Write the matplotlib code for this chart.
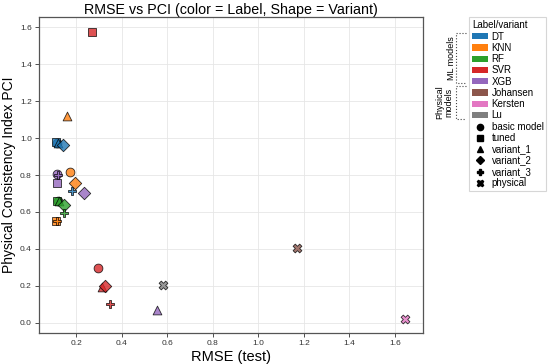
import numpy as np
import matplotlib
matplotlib.use("Agg")
import matplotlib.pyplot as plt
from matplotlib.patches import Patch
from matplotlib.lines import Line2D

plt.rcParams['font.family'] = ['Liberation Sans', 'DejaVu Sans']

# label / variant definitions
labels = ['DT', 'KNN', 'RF', 'SVR', 'XGB', 'Johansen', 'Kersten', 'Lu']
variants = ['basic model', 'tuned', 'variant_1', 'variant_2', 'variant_3', 'physical']

# one entry per point
point_label = ['DT'] * 5 + ['KNN'] * 5 + ['RF'] * 5 + ['SVR'] * 5 + ['XGB'] * 5 + ['Johansen', 'Kersten', 'Lu']
point_variant = variants[:5] * 5 + ['physical'] * 3
rmse = [0.115, 0.112, 0.118, 0.143, 0.180,
        0.171, 0.113, 0.161, 0.194, 0.115,
        0.118, 0.117, 0.125, 0.146, 0.146,
        0.295, 0.270, 0.314, 0.328, 0.347,
        0.114, 0.114, 0.555, 0.235, 0.118,
        1.171, 1.645, 0.581]
pci = [0.975, 0.978, 0.975, 0.961, 0.713,
       0.818, 0.551, 1.120, 0.759, 0.553,
       0.660, 0.659, 0.660, 0.637, 0.592,
       0.298, 1.577, 0.193, 0.200, 0.099,
       0.804, 0.759, 0.067, 0.705, 0.800,
       0.404, 0.022, 0.204]

colors = dict(zip(labels, plt.cm.tab10.colors[:8]))
markers = dict(zip(variants, ['o', 's', '^', 'D', 'P', 'X']))

fig = plt.figure(figsize=(5.5, 3.64), dpi=100)
ax = fig.add_axes([0.0704, 0.0852, 0.698, 0.8673])

for lab, var, x, y in zip(point_label, point_variant, rmse, pci):
    ax.scatter(x, y, color=colors[lab], marker=markers[var], s=40,
               edgecolors='black', linewidths=0.6, alpha=0.8, zorder=3)

ax.set_title('RMSE vs PCI (color = Label, Shape = Variant)', fontsize=10.3, pad=2)
ax.set_xlabel('RMSE (test)', fontsize=10.5, labelpad=2)
ax.set_ylabel('Physical Consistency Index PCI', fontsize=10, labelpad=3)
ax.tick_params(labelsize=6, length=3, width=0.6, pad=2, colors='#333333')
ax.grid(True, color='#e6e6e6', linewidth=0.6)
ax.set_axisbelow(True)
for s in ax.spines.values():
    s.set_color('#555555')
    s.set_linewidth(0.9)

# legend: colour patches for labels, black markers for variants
handles = [Patch(facecolor=colors[l], edgecolor='none') for l in labels]
handles += [Line2D([], [], linestyle='', marker=markers[v], color='black',
                   markersize=4.5) for v in variants]
leg = fig.legend(handles, labels + variants, title='Label/variant',
                 loc='upper left', bbox_to_anchor=(0.853, 0.952),
                 fontsize=7, title_fontsize=7, labelspacing=0.13,
                 handlelength=1.6, handleheight=0.6, handletextpad=0.4,
                 borderpad=0.3, borderaxespad=0, frameon=True, fancybox=False)
leg.get_frame().set_edgecolor('#cccccc')
leg.get_frame().set_linewidth(0.8)
leg._legend_box.align = 'left'

# brackets grouping ML and physical models
def bracket(y0, y1):
    xa, xb = 456 / 550, 466 / 550
    ya, yb = 1 - y0 / 364, 1 - y1 / 364
    fig.add_artist(Line2D([xb, xa, xa, xb], [ya, ya, yb, yb],
                          transform=fig.transFigure, color='#444444',
                          linestyle=':', linewidth=0.8))

bracket(33, 83)
bracket(86, 119)
fig.text(451 / 550, 1 - 58 / 364, 'ML models', rotation=90, fontsize=6.5,
         ha='center', va='center')
fig.text(444 / 550, 1 - 102 / 364, 'Physical\nmodels', rotation=90, fontsize=6.5,
         ha='center', va='center', linespacing=1.0)

fig.savefig('out.png', dpi=100)
